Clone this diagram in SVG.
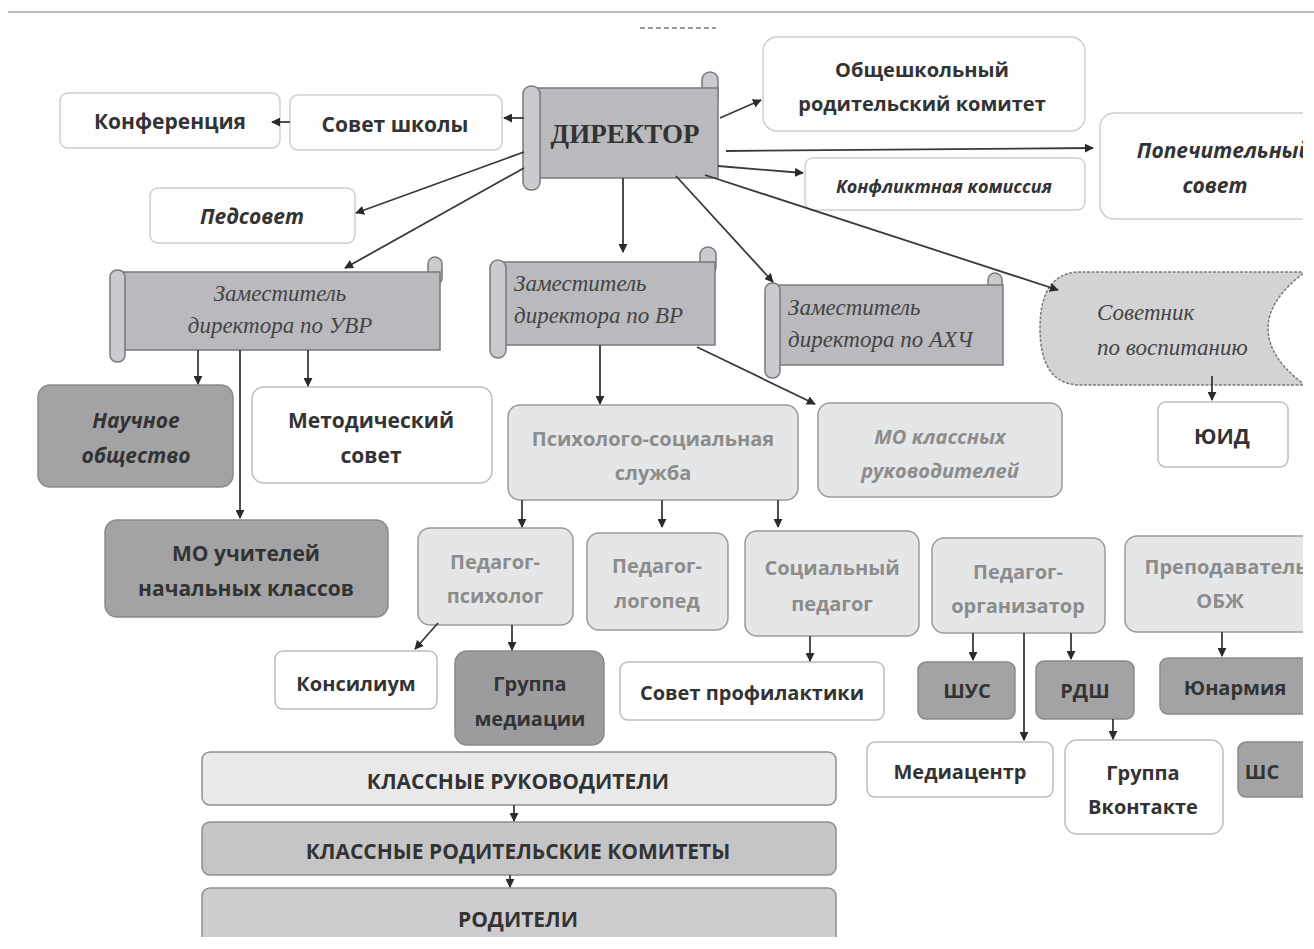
<svg xmlns="http://www.w3.org/2000/svg" width="1314" height="949" viewBox="0 0 1314 949">
<defs>
<style>
.bg{fill:#ffffff}
.w{fill:#fdfdfd;stroke:#cfcfcf;stroke-width:1.5}
.wb{fill:#ffffff;stroke:#bdbdbd;stroke-width:1.5}
.lg{fill:#e5e6e7;stroke:#9a9a9a;stroke-width:1.5}
.dg{fill:#a3a3a6;stroke:#8a8a8a;stroke-width:1.5}
.bar1{fill:#e9e9ea;stroke:#8e8e8e;stroke-width:1.5}
.bar2{fill:#c5c5c8;stroke:#8e8e8e;stroke-width:1.5}
.bar3{fill:#cdcdd0;stroke:#8e8e8e;stroke-width:1.5}
.scroll{fill:#b9b9be;stroke:#7a7a7a;stroke-width:1.5}
.roll{fill:#cbcbcf;stroke:#7a7a7a;stroke-width:1.5}
.sov{fill:#d3d3d5;stroke:#7a7a7a;stroke-width:1.5;stroke-dasharray:3 1.5}
.t{font-family:"Open Sans","Noto Sans","Liberation Sans",sans-serif;font-weight:700;fill:#333;text-anchor:middle}
.ti{font-style:italic}
.tg{fill:#8c8c8c}
.ts{font-family:"Liberation Serif","DejaVu Serif",serif;font-style:italic;fill:#444;font-size:23px}
.tdir{font-family:"Liberation Serif","DejaVu Serif",serif;font-weight:700;fill:#333;font-size:27px;text-anchor:middle}
.c{fill:none;stroke:#3a3a3a;stroke-width:1.8;marker-end:url(#a)}
</style>
<marker id="a" viewBox="0 0 10 10" refX="9" refY="5" markerWidth="5" markerHeight="5" orient="auto" markerUnits="strokeWidth">
<path d="M0,0 L10,5 L0,10 Z" fill="#2a2a2a"/>
</marker>
<clipPath id="page"><rect x="0" y="0" width="1303" height="937"/></clipPath>
</defs>
<rect class="bg" x="0" y="0" width="1314" height="949"/>
<line x1="8" y1="12" x2="1314" y2="12" stroke="#bdbdbd" stroke-width="2"/>
<line x1="640" y1="28" x2="716" y2="28" stroke="#999" stroke-width="2" stroke-dasharray="5 3"/>
<g clip-path="url(#page)">
<g id="konf"><rect class="w" x="60" y="93" width="220" height="55" rx="8"/><text class="t" x="170" y="129" font-size="21">Конференция</text></g>
<g id="sovet-shkoly"><rect class="w" x="290" y="95" width="212" height="55" rx="8"/><text class="t" x="395" y="132" font-size="21">Совет школы</text></g>
<g id="direktor">
<rect class="roll" x="702" y="72" width="16" height="34" rx="8"/>
<rect class="scroll" x="530" y="88" width="188" height="90"/>
<rect class="roll" x="523" y="86" width="17" height="104" rx="8"/>
<text class="tdir" x="625" y="143">ДИРЕКТОР</text>
</g>
<g id="obsh"><rect class="w" x="763" y="37" width="322" height="94" rx="14"/><text class="t" x="922" y="77" font-size="20">Общешкольный</text><text class="t" x="922" y="111" font-size="20">родительский комитет</text></g>
<g id="popech"><rect class="w" x="1100" y="113" width="230" height="106" rx="14"/><text class="t ti" x="1224" y="158" font-size="21">Попечительный</text><text class="t ti" x="1215" y="193" font-size="21">совет</text></g>
<g id="konflikt"><rect class="w" x="805" y="158" width="280" height="52" rx="8"/><text class="t ti" x="944" y="193" font-size="18">Конфликтная комиссия</text></g>
<g id="pedsovet"><rect class="w" x="150" y="188" width="205" height="55" rx="8"/><text class="t ti" x="252" y="224" font-size="21">Педсовет</text></g>
<g id="zam-uvr">
<rect class="roll" x="428" y="257" width="14" height="28" rx="7"/>
<rect class="scroll" x="115" y="272" width="325" height="78"/>
<rect class="roll" x="110" y="270" width="15" height="92" rx="7"/>
<text class="ts" x="280" y="301" text-anchor="middle">Заместитель</text>
<text class="ts" x="280" y="333" text-anchor="middle">директора по УВР</text>
</g>
<g id="zam-vr">
<rect class="roll" x="700" y="247" width="16" height="28" rx="8"/>
<rect class="scroll" x="496" y="262" width="219" height="83"/>
<rect class="roll" x="490" y="260" width="16" height="98" rx="8"/>
<text class="ts" x="514" y="291">Заместитель</text>
<text class="ts" x="514" y="323">директора по ВР</text>
</g>
<g id="zam-ahch">
<rect class="roll" x="988" y="273" width="14" height="26" rx="7"/>
<rect class="scroll" x="770" y="285" width="233" height="80"/>
<rect class="roll" x="765" y="283" width="15" height="95" rx="7"/>
<text class="ts" x="788" y="315">Заместитель</text>
<text class="ts" x="788" y="347">директора по АХЧ</text>
</g>
<g id="sovetnik">
<path class="sov" d="M1078,272 L1305,272 Q1268,300 1268,328 Q1268,358 1305,385 L1078,385 Q1040,383 1040,328 Q1040,274 1078,272 Z"/>
<text class="ts" x="1097" y="320" font-size="21">Советник</text>
<text class="ts" x="1097" y="355" font-size="21">по воспитанию</text>
</g>
<g id="yuid"><rect class="wb" x="1158" y="402" width="130" height="65" rx="8"/><text class="t" x="1222" y="444" font-size="21">ЮИД</text></g>
<g id="nauch"><rect class="dg" x="38" y="385" width="195" height="102" rx="12"/><text class="t ti" x="136" y="428" font-size="21">Научное</text><text class="t ti" x="136" y="463" font-size="21">общество</text></g>
<g id="metod"><rect class="wb" x="252" y="387" width="240" height="96" rx="12"/><text class="t" x="371" y="428" font-size="21">Методический</text><text class="t" x="371" y="463" font-size="21">совет</text></g>
<g id="mo-nach"><rect class="dg" x="105" y="520" width="283" height="97" rx="12"/><text class="t" x="246" y="561" font-size="21">МО учителей</text><text class="t" x="246" y="596" font-size="21">начальных классов</text></g>
<g id="psih-soc"><rect class="lg" x="508" y="405" width="290" height="95" rx="12"/><text class="t tg" x="653" y="446" font-size="20">Психолого-социальная</text><text class="t tg" x="653" y="480" font-size="20">служба</text></g>
<g id="mo-kl"><rect class="lg" x="818" y="403" width="244" height="94" rx="12"/><text class="t ti tg" x="940" y="444" font-size="20">МО классных</text><text class="t ti tg" x="940" y="478" font-size="20">руководителей</text></g>
<g id="ped-psih"><rect class="lg" x="418" y="528" width="155" height="97" rx="12"/><text class="t tg" x="495" y="569" font-size="20">Педагог-</text><text class="t tg" x="495" y="603" font-size="20">психолог</text></g>
<g id="ped-logo"><rect class="lg" x="587" y="533" width="141" height="97" rx="12"/><text class="t tg" x="657" y="573" font-size="20">Педагог-</text><text class="t tg" x="657" y="608" font-size="20">логопед</text></g>
<g id="soc-ped"><rect class="lg" x="745" y="531" width="174" height="105" rx="12"/><text class="t tg" x="832" y="575" font-size="20">Социальный</text><text class="t tg" x="832" y="611" font-size="20">педагог</text></g>
<g id="ped-org"><rect class="lg" x="932" y="538" width="173" height="95" rx="12"/><text class="t tg" x="1018" y="579" font-size="20">Педагог-</text><text class="t tg" x="1018" y="613" font-size="20">организатор</text></g>
<g id="obzh"><rect class="lg" x="1125" y="536" width="200" height="96" rx="12"/><text class="t tg" x="1226" y="574" font-size="20">Преподаватель</text><text class="t tg" x="1220" y="608" font-size="20">ОБЖ</text></g>
<g id="konsil"><rect class="wb" x="275" y="651" width="162" height="58" rx="8"/><text class="t" x="356" y="691" font-size="20">Консилиум</text></g>
<g id="mediac"><rect class="dg" x="455" y="651" width="149" height="94" rx="12" style="fill:#9c9c9f"/><text class="t" x="530" y="691" font-size="20">Группа</text><text class="t" x="530" y="726" font-size="20">медиации</text></g>
<g id="profil"><rect class="wb" x="620" y="662" width="264" height="58" rx="8"/><text class="t" x="752" y="700" font-size="20">Совет профилактики</text></g>
<g id="shus"><rect class="dg" x="918" y="662" width="97" height="57" rx="8"/><text class="t" x="967" y="698" font-size="20">ШУС</text></g>
<g id="rdsh"><rect class="dg" x="1036" y="661" width="98" height="58" rx="8"/><text class="t" x="1085" y="698" font-size="20">РДШ</text></g>
<g id="yunarm"><rect class="dg" x="1160" y="658" width="160" height="56" rx="8"/><text class="t" x="1235" y="695" font-size="20">Юнармия</text></g>
<g id="mediacentr"><rect class="wb" x="867" y="742" width="186" height="55" rx="8"/><text class="t" x="960" y="779" font-size="20">Медиацентр</text></g>
<g id="vk"><rect class="wb" x="1065" y="740" width="158" height="94" rx="12"/><text class="t" x="1143" y="780" font-size="20">Группа</text><text class="t" x="1143" y="814" font-size="20">Вконтакте</text></g>
<g id="shs"><rect class="dg" x="1238" y="742" width="100" height="55" rx="8"/><text class="t" x="1262" y="779" font-size="20" text-anchor="start">ШС</text></g>
<g id="kl-ruk"><rect class="bar1" x="202" y="752" width="634" height="53" rx="8"/><text class="t" x="518" y="789" font-size="21">КЛАССНЫЕ РУКОВОДИТЕЛИ</text></g>
<g id="kl-rod"><rect class="bar2" x="202" y="822" width="634" height="53" rx="8"/><text class="t" x="518" y="859" font-size="21">КЛАССНЫЕ РОДИТЕЛЬСКИЕ КОМИТЕТЫ</text></g>
<g id="roditeli"><rect class="bar3" x="202" y="888" width="634" height="70" rx="8"/><text class="t" x="518" y="927" font-size="21">РОДИТЕЛИ</text></g>
<g id="connectors">
<line class="c" x1="524" y1="118" x2="504" y2="118"/>
<line class="c" x1="290" y1="122" x2="272" y2="122"/>
<line class="c" x1="524" y1="152" x2="356" y2="213"/>
<line class="c" x1="524" y1="168" x2="345" y2="268"/>
<line class="c" x1="623" y1="178" x2="623" y2="252"/>
<line class="c" x1="720" y1="118" x2="761" y2="100"/>
<line class="c" x1="726" y1="151" x2="1093" y2="148"/>
<line class="c" x1="718" y1="166" x2="803" y2="173"/>
<line class="c" x1="676" y1="176" x2="773" y2="282"/>
<line class="c" x1="705" y1="175" x2="1058" y2="290"/>
<line class="c" x1="198" y1="350" x2="198" y2="384"/>
<line class="c" x1="240" y1="350" x2="240" y2="518"/>
<line class="c" x1="308" y1="350" x2="308" y2="386"/>
<line class="c" x1="600" y1="345" x2="600" y2="404"/>
<line class="c" x1="697" y1="347" x2="815" y2="404"/>
<line class="c" x1="1212" y1="376" x2="1212" y2="400"/>
<line class="c" x1="522" y1="500" x2="522" y2="527"/>
<line class="c" x1="662" y1="500" x2="662" y2="527"/>
<line class="c" x1="778" y1="500" x2="778" y2="527"/>
<line class="c" x1="438" y1="623" x2="415" y2="649"/>
<line class="c" x1="512" y1="625" x2="512" y2="650"/>
<line class="c" x1="810" y1="636" x2="810" y2="661"/>
<line class="c" x1="973" y1="633" x2="973" y2="660"/>
<line class="c" x1="1024" y1="633" x2="1024" y2="740"/>
<line class="c" x1="1071" y1="633" x2="1071" y2="659"/>
<line class="c" x1="1113" y1="719" x2="1113" y2="739"/>
<line class="c" x1="1222" y1="632" x2="1222" y2="656"/>
<line class="c" x1="514" y1="805" x2="514" y2="821"/>
<line class="c" x1="510" y1="875" x2="510" y2="887"/>
</g>
</g>
</svg>
